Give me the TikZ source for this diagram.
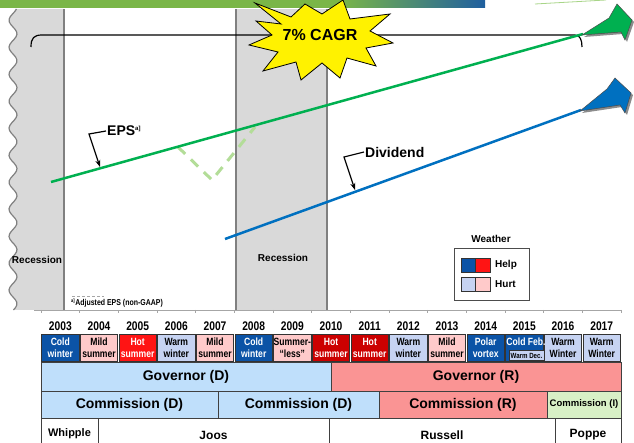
\documentclass[tikz,border=0pt]{standalone}
\usepackage{fontspec}
\setmainfont{Liberation Sans}
\newfontfamily\narrowsans{Liberation Sans}[FakeStretch=0.82]
\usetikzlibrary{arrows.meta, positioning, calc}

\definecolor{topgreen}{HTML}{7AB648}
\definecolor{topblue}{HTML}{1F5F9F}
\definecolor{recgray}{HTML}{D9D9D9}
\definecolor{bargray}{HTML}{808080}
\definecolor{epsgreen}{HTML}{00B050}
\definecolor{divblue}{HTML}{0070C0}
\definecolor{adjgreen}{HTML}{B3DD98}
\definecolor{wdark}{HTML}{0B53A6}
\definecolor{wred}{HTML}{FF1414}
\definecolor{wdred}{HTML}{CC0000}
\definecolor{wlight}{HTML}{C6D3F2}
\definecolor{wpink}{HTML}{FFCACA}
\definecolor{govd}{HTML}{BFDFFB}
\definecolor{govr}{HTML}{FA9494}
\definecolor{comi}{HTML}{D8F0C6}

\begin{document}
\begin{tikzpicture}[x=1pt, y=-1pt, >=Stealth,
  wxcell/.style={draw=black!80, line width=0.6pt},
  rowbox/.style={draw=black!75, line width=0.8pt},
  yearlbl/.style={font=\narrowsans\fontsize{12.5}{12.5}\selectfont\bfseries},
  wxlbl/.style={font=\narrowsans\fontsize{10.5}{12}\selectfont\bfseries, align=center, inner sep=0pt},
  rowlbl/.style={font=\fontsize{14}{14}\selectfont\bfseries},
  namelbl/.style={font=\fontsize{12}{12}\selectfont\bfseries},
  smalllbl/.style={font=\fontsize{10}{10}\selectfont\bfseries},
  callout/.style={black, line width=1.2pt, -{Stealth[length=7pt, width=5pt]}},
  trend/.style={line width=2.5pt}]
  \useasboundingbox (0,0) rectangle (634,443);
  \clip (0,0) rectangle (634,443);
  \fill[white] (0,0) rectangle (634,443);

  % Recession bands
  \fill[recgray] plot[domain=9:310, samples=120, variable=\t] ({13+4*sin(\t/27*360)}, \t)
    -- (64,310) -- (64,9) -- cycle;
  \draw[bargray, line width=1.2pt] plot[domain=9:310, samples=120, variable=\t] ({13+4*sin(\t/27*360)}, \t);
  \fill[recgray] (236,9) rectangle (327,310);
  \foreach \bx in {64,236,327}
    \draw[bargray, line width=1.5pt] (\bx,9) -- (\bx,310);
  \node[smalllbl] (rec1) at (37,260) {Recession};
  \node[smalllbl] (rec2) at (283,258) {Recession};

  % Top bar
  \fill[topgreen] (0,0) rectangle (341,8);
  \shade[left color=topgreen, right color=topblue] (340,0) rectangle (485,8);
  \draw[adjgreen!80!topgreen, line width=0.8pt] (535,4) -- (606,0);

  % Axis
  \draw[black!35, line width=0.8pt] (34,310) -- (621,310);
  \foreach \i in {0,...,15}
    \draw[black!35, line width=0.8pt] ({41+\i*38.67},310) -- ++(0,3);

  % CAGR bracket
  \draw[black, line width=1.2pt] (31,47) .. controls (31,38) and (34,35) .. (42,35)
    -- (575,35) .. controls (580,35) and (582,40) .. (582,47);

  % Adjusted EPS dip
  \draw[adjgreen, line width=3pt, dash pattern=on 10pt off 8pt] (178,147) -- (212,180) -- (255,127);

  % EPS and dividend trends
  \coordinate (epsA) at (51,182);
  \coordinate (epsB) at (583,34);
  \coordinate (divA) at (225,239);
  \coordinate (divB) at (581,110);
  \draw[trend, epsgreen] (epsA) -- (epsB);
  \draw[trend, divblue] (divA) -- (divB);
  \fill[black!45] (584,37) -- (611,21) -- (619,7) -- (634,22) -- (627,42) -- (623,34) -- cycle;
  \filldraw[fill=epsgreen, draw=black!70, line width=0.5pt]
    (582,35) -- (609,18) -- (617,4) -- (632,20) -- (625,40) -- (621,32) -- cycle;
  \fill[black!45] (582,113) -- (610,93) -- (617,81) -- (633,95) -- (627,115) -- (622,107) -- cycle;
  \filldraw[fill=divblue, draw=black!70, line width=0.5pt]
    (580,111) -- (607,89) -- (615,78) -- (631,93) -- (625,113) -- (620,105) -- cycle;

  % Callouts
  \node[font=\fontsize{14}{14}\selectfont\bfseries, anchor=west, inner sep=1pt] (epslbl) at (106,131)
    {EPS\textsuperscript{\fontsize{6}{6}\selectfont a]}};
  \coordinate (epsbend) at (89,134);
  \coordinate (epstip) at (100,167);
  \draw[callout] (epslbl.west) -- (epsbend) -- (epstip);
  \node[font=\fontsize{14}{14}\selectfont\bfseries, anchor=west, inner sep=1pt] (divlbl) at (364,152) {Dividend};
  \coordinate (divbend) at (344,157);
  \coordinate (divtip) at (355,190);
  \draw[callout] (divlbl.west) -- (divbend) -- (divtip);

  % Footnote
  \draw[black!35, dash pattern=on 3pt off 2pt, line width=0.6pt] (72,296) -- (104,296);
  \node[font=\narrowsans\fontsize{8.5}{8.5}\selectfont\bfseries, anchor=west, inner sep=0pt] (fnote) at (71,303)
    {\textsuperscript{\fontsize{5}{5}\selectfont a]}Adjusted EPS (non-GAAP)};

  % 7% CAGR star
  \filldraw[fill=yellow, draw=black, line width=0.8pt]
    (255,3) -- (291,17) -- (305,4) -- (322,14) -- (343,0) -- (350,19) -- (390,14)
    -- (370,31) -- (393,43) -- (366,48) -- (376,66) -- (347,58) -- (340,78)
    -- (322,63) -- (301,80) -- (296,62) -- (263,71) -- (278,52) -- (249,45)
    -- (272,35) -- (256,21) -- (281,24) -- cycle;
  \node[font=\fontsize{16}{16}\selectfont\bfseries] (cagr) at (320,35) {7\% CAGR};

  % Weather legend
  \node[smalllbl] (wxtitle) at (491,239) {Weather};
  \draw[black!70, line width=0.8pt] (454,248) rectangle (529,300);
  \filldraw[wxcell, fill=wdark] (461,258) rectangle (475,272);
  \filldraw[wxcell, fill=wred] (475,258) rectangle (490,272);
  \filldraw[wxcell, fill=wlight] (461,277) rectangle (475,291);
  \filldraw[wxcell, fill=wpink] (475,277) rectangle (490,291);
  \node[smalllbl, anchor=west, inner sep=0pt] (help) at (495,265) {Help};
  \node[smalllbl, anchor=west, inner sep=0pt] (hurt) at (495,284) {Hurt};

  % Years
  \foreach \i in {0,...,14} {
    \pgfmathtruncatemacro\yr{2003+\i}
    \node[yearlbl] (yr\i) at ({41+(\i+0.5)*38.67},326) {\yr};
  }

  % Weather row
  \foreach \i/\fc/\tc/\la/\lb in {0/wdark/white/Cold/winter, 1/wpink/black/Mild/summer,
      2/wred/white/Hot/summer, 3/wlight/black/Warm/winter, 4/wpink/black/Mild/summer,
      5/wdark/white/Cold/winter, 6/wpink/black/Summer-/“less”, 7/wdred/white/Hot/summer,
      8/wdred/white/Hot/summer, 9/wlight/black/Warm/winter, 10/wpink/black/Mild/summer,
      11/wdark/white/Polar/vortex, 13/wlight/black/Warm/Winter, 14/wlight/black/Warm/Winter} {
    \filldraw[wxcell, fill=\fc] ({41+\i*38.67+0.6},334) rectangle ({41+(\i+1)*38.67-0.6},361);
    \node[wxlbl, text=\tc] (wx\i) at ({41+(\i+0.5)*38.67},347.5) {\la\\\lb};
  }
  \filldraw[wxcell, fill=wdark] ({41+12*38.67+0.6},334) rectangle ({41+13*38.67-0.6},361);
  \filldraw[wxcell, fill=wlight] (509,350) rectangle (544,360);
  \node[wxlbl, text=white] (wx12) at (526,342) {Cold Feb.};
  \node[font=\narrowsans\fontsize{7.5}{7.5}\selectfont\bfseries, inner sep=0pt] (wx12b) at (526.5,355.5) {Warm Dec.};

  % Governor row
  \filldraw[rowbox, fill=govd] (41,362) rectangle (331,391);
  \filldraw[rowbox, fill=govr] (331,362) rectangle (621,391);
  \node[rowlbl] (govD) at (186,376.5) {Governor (D)};
  \node[rowlbl] (govR) at (476,376.5) {Governor (R)};

  % Commission row
  \filldraw[rowbox, fill=govd] (41,391) rectangle (218,418);
  \filldraw[rowbox, fill=govd] (218,391) rectangle (379,418);
  \filldraw[rowbox, fill=govr] (379,391) rectangle (547,418);
  \filldraw[rowbox, fill=comi] (547,391) rectangle (621,418);
  \node[rowlbl] (comD1) at (129.5,404.5) {Commission (D)};
  \node[rowlbl] (comD2) at (298.5,404.5) {Commission (D)};
  \node[rowlbl] (comR) at (463,404.5) {Commission (R)};
  \node[font=\fontsize{9.5}{9.5}\selectfont\bfseries] (comI) at (584,404.5) {Commission (I)};

  % Names row
  \draw[rowbox] (41,418) rectangle (98,450);
  \draw[rowbox] (98,418) rectangle (329,450);
  \draw[rowbox] (329,418) rectangle (555,450);
  \draw[rowbox] (555,418) rectangle (621,450);
  \node[font=\fontsize{11}{11}\selectfont\bfseries] (whipple) at (69.5,434) {Whipple};
  \node[namelbl] (joos) at (213.5,435) {Joos};
  \node[namelbl] (russell) at (442,435) {Russell};
  \node[namelbl] (poppe) at (588,435) {Poppe};
\end{tikzpicture}
\end{document}
